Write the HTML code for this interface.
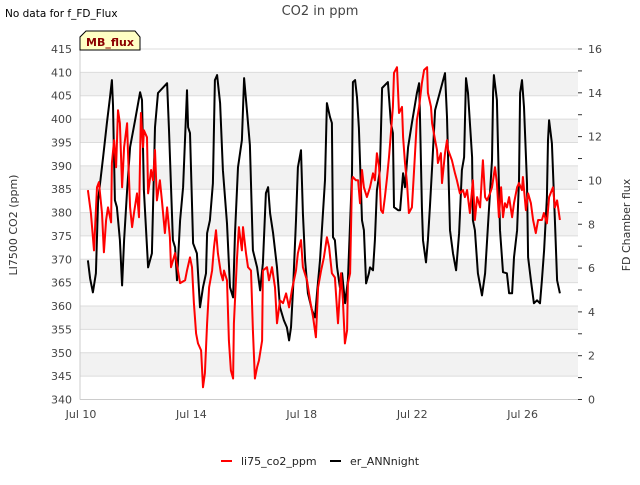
<!DOCTYPE html>
<html><head><meta charset="utf-8"><style>
body{margin:0;background:#fff;font-family:"Liberation Sans","DejaVu Sans",sans-serif}
svg text{font-family:"DejaVu Sans","Liberation Sans",sans-serif}
</style></head><body>
<svg id="c" width="640" height="480" xmlns="http://www.w3.org/2000/svg">
<text x="5" y="17" font-size="10.5" fill="#000">No data for f_FD_Flux</text>
<text x="320" y="15" font-size="13" fill="#444" text-anchor="middle">CO2 in ppm</text>
<g id="grid"></g>
<g id="axes"></g>
<g id="series"></g>
<g>
<path d="M80,50 L80,37 L86,31 L135,31 L140,37 L140,50 Z" fill="#ffffc4" stroke="#000" stroke-width="1"/>
<text x="110" y="46" font-size="11" font-weight="bold" fill="#8b0000" text-anchor="middle">MB_flux</text>
</g>
<text transform="translate(17,225) rotate(-90)" font-size="11" fill="#333" text-anchor="middle">LI7500 CO2 (ppm)</text>
<text transform="translate(630,225) rotate(-90)" font-size="11" fill="#333" text-anchor="middle">FD Chamber flux</text>
<g>
<g><line x1="221" y1="461" x2="232" y2="461" stroke="#f00" stroke-width="2"/><text x="241" y="465" font-size="11" fill="#222">li75_co2_ppm</text></g>
<g><line x1="330" y1="461" x2="341" y2="461" stroke="#000" stroke-width="2"/><text x="350" y="465" font-size="11" fill="#222">er_ANNnight</text></g>
</g>
</svg>
<script>
const xTickLabels=["Jul 10","Jul 14","Jul 18","Jul 22","Jul 26"];
const xTickDays=[0,4,8,12,16];
const leftTicks=[340,345,350,355,360,365,370,375,380,385,390,395,400,405,410,415];
const rightTicks=[0,2,4,6,8,10,12,14,16];
const redDays=[0.25,0.36,0.47,0.58,0.65,0.76,0.83,0.91,0.98,1.09,1.12,1.2,1.27,1.34,1.41,1.49,1.56,1.67,1.7,1.78,1.85,1.92,2.03,2.1,2.17,2.25,2.28,2.39,2.43,2.54,2.61,2.68,2.75,2.86,2.93,3.04,3.12,3.22,3.26,3.41,3.51,3.59,3.77,3.84,3.95,4.02,4.09,4.17,4.24,4.35,4.42,4.49,4.57,4.64,4.75,4.82,4.89,4.96,5.07,5.14,5.18,5.29,5.36,5.43,5.51,5.54,5.65,5.72,5.83,5.87,5.98,6.05,6.16,6.23,6.3,6.38,6.45,6.56,6.59,6.74,6.81,6.92,7.03,7.1,7.21,7.32,7.43,7.54,7.64,7.79,7.86,7.97,8.04,8.19,8.3,8.41,8.51,8.59,8.7,8.8,8.91,8.99,9.09,9.2,9.27,9.31,9.42,9.49,9.56,9.64,9.67,9.75,9.82,9.85,9.96,10.04,10.11,10.18,10.25,10.36,10.47,10.58,10.65,10.72,10.8,10.87,10.94,11.01,11.09,11.16,11.23,11.3,11.34,11.45,11.52,11.63,11.67,11.74,11.81,11.88,11.99,12.06,12.17,12.25,12.35,12.43,12.54,12.57,12.68,12.72,12.83,12.9,12.93,13.04,13.08,13.19,13.26,13.3,13.44,13.55,13.62,13.73,13.84,13.91,13.99,14.09,14.2,14.27,14.35,14.46,14.56,14.64,14.71,14.82,14.89,15,15.07,15.14,15.22,15.29,15.36,15.43,15.51,15.62,15.69,15.8,15.87,15.98,16.01,16.12,16.2,16.3,16.38,16.48,16.56,16.7,16.77,16.88,16.96,17.1,17.17,17.25,17.35];
const redValues=[384.8,379.9,371.9,385.4,386.5,379.9,371.5,378.4,381.1,377.9,390.6,395.5,389.7,401.9,399.1,385.4,394,399.1,393.4,381.1,376.9,379.9,384.1,379,401.3,394,397.6,396.1,384.1,389.1,386.9,393.4,382.6,386.9,382.6,375.6,381.1,374.7,368.3,371.3,367.6,364.9,365.5,367.6,370.4,368.3,360.6,354.1,352,350.5,342.6,345.6,356.3,364,367.6,372.6,376.2,371.3,367,365.5,367.6,365.5,352.6,346.2,344.5,356.3,369.8,376.9,371.9,376.9,371.3,368.3,367.6,354.8,344.5,346.9,348.4,352.6,367.6,368.3,365.5,368.3,364,356.3,361.2,360.6,362.7,359.7,363.4,367.6,371.3,374.1,368.3,365.5,361.2,357.6,353.3,364,367.6,370.4,374.7,372.6,367,366.1,359.7,356.3,367,361.2,352,354.8,364.9,367,386.9,387.6,386.9,386.9,382,389.1,385.4,383.3,385.4,388.4,386.9,392.7,389.7,380.5,379.9,383.3,387.6,391.9,397,402.6,409.9,411.1,401.3,402.6,396.1,390.6,386.3,379.9,381.1,388.4,399.8,402.6,407.7,410.5,411.1,405.6,402.6,399.1,395.5,393.4,390.6,392.7,386.3,392.7,395.5,393.4,391.2,388.4,386.9,384.1,384.8,383.3,384.8,379.9,386.9,378.4,383.3,381.1,391.2,383.3,382.6,384.1,385.4,389.7,386.3,379,385.4,379,382,381.1,383.3,379,382,385.4,386.3,384.8,387.6,380.5,384.1,382,378.4,375.6,378.4,378.4,379.9,377.7,383.3,385.4,381.1,382.6,378.4];
const blackDays=[0.25,0.33,0.43,0.54,0.62,0.8,0.94,1.05,1.12,1.16,1.23,1.3,1.41,1.49,1.56,1.67,1.78,1.96,2.14,2.21,2.28,2.43,2.57,2.68,2.79,3.12,3.19,3.33,3.41,3.48,3.59,3.7,3.84,3.88,3.95,4.06,4.2,4.31,4.42,4.53,4.57,4.67,4.78,4.85,4.93,5.04,5.14,5.29,5.4,5.51,5.58,5.69,5.83,5.91,6.01,6.12,6.23,6.38,6.49,6.59,6.7,6.78,6.85,6.96,7.1,7.21,7.35,7.46,7.54,7.61,7.68,7.79,7.86,7.97,8.04,8.12,8.22,8.37,8.48,8.55,8.66,8.84,8.91,9.02,9.09,9.13,9.2,9.28,9.38,9.46,9.57,9.67,9.82,9.85,9.93,10,10.07,10.18,10.25,10.33,10.43,10.47,10.58,10.65,10.72,10.83,10.91,11.12,11.23,11.3,11.34,11.49,11.56,11.67,11.74,11.85,11.99,12.17,12.25,12.28,12.35,12.39,12.5,12.57,12.64,12.72,12.83,13.19,13.26,13.37,13.48,13.59,13.7,13.8,13.88,13.95,14.02,14.17,14.2,14.27,14.38,14.53,14.64,14.75,14.89,14.93,14.96,15.07,15.18,15.29,15.43,15.51,15.62,15.69,15.8,15.87,15.91,15.98,16.05,16.16,16.2,16.3,16.41,16.52,16.63,16.7,16.78,16.88,16.92,16.96,17.06,17.17,17.25,17.35];
const blackValues=[6.35,5.53,4.89,5.76,9.1,11.06,12.62,13.8,14.58,13.44,9.1,8.78,7.27,5.21,7.27,9.55,11.52,12.75,14.03,13.67,9.55,6.03,6.67,12.43,13.99,14.44,12.3,7.27,6.95,5.44,8.18,9.69,14.12,12.43,12.16,7.13,6.67,4.21,5.12,5.76,7.59,8.18,9.87,14.58,14.81,13.53,10.47,8.04,5.12,4.66,7.59,10.6,11.84,14.67,13.21,11.61,6.81,6.03,4.98,6.22,9.42,9.69,8.5,7.59,6.03,4.21,3.61,3.29,2.7,3.29,4.98,8.18,10.6,11.38,8.5,6.35,4.85,4.07,3.75,4.85,6.35,10.01,13.53,12.89,12.62,7.41,7.27,6.03,5.12,5.76,4.39,5.44,10.33,14.49,14.58,13.8,12.39,8.18,7.73,5.3,5.76,6.03,5.9,7.27,9.55,10.47,14.22,14.49,12.62,12.16,8.78,8.64,8.64,10.33,9.69,11.52,12.62,13.99,14.44,13.07,8.78,7.27,6.26,7.27,8.78,10.6,13.21,14.9,12.89,7.73,6.67,5.9,7.59,10.47,11.06,14.67,13.99,11.06,8.18,7.73,5.76,4.75,5.76,8.04,10.92,14.03,14.81,13.67,7.73,5.81,5.76,4.85,4.85,6.49,7.73,10.01,13.99,14.58,13.35,9.87,6.49,5.44,4.39,4.53,4.39,5.44,6.81,9.23,11.84,12.75,11.7,8.18,5.44,4.85];

const NS="http://www.w3.org/2000/svg";
const L=80,R=578,T=49,B=399.5;
const xS=d=>81+d*27.6;
const yL=v=>B-(v-340)*(B-T)/75;
const yR=v=>B-v*(B-T)/16;
function mk(tag,attrs,parent){const e=document.createElementNS(NS,tag);for(const k in attrs)e.setAttribute(k,attrs[k]);parent.appendChild(e);return e;}
const grid=document.getElementById('grid'),axes=document.getElementById('axes'),series=document.getElementById('series');
for(let v=345;v<410;v+=10){
  const r=mk('rect',{x:L,y:yL(v+5),width:R-L,height:yL(v)-yL(v+5),fill:'#f2f2f2'},grid);
  
  
}
leftTicks.forEach(v=>{
  const l=mk('line',{x1:L,x2:R,y1:yL(v),y2:yL(v),stroke:'#dcdcdc','stroke-width':1},grid);
  
  
  const t=mk('text',{x:72,y:yL(v)+4,'font-size':11,fill:'#444','text-anchor':'end'},axes);
  t.textContent=v;
  
  
});
mk('line',{x1:L,x2:L,y1:T,y2:B,stroke:'#ccc','stroke-width':1},axes);
mk('line',{x1:L,x2:R,y1:B,y2:B,stroke:'#ccc','stroke-width':1},axes);
for(let v=0;v<=16;v++){
  const tk=mk('line',{x1:R,x2:R+4,y1:yR(v),y2:yR(v),stroke:'#333','stroke-width':1},axes);
  
  
}
rightTicks.forEach(v=>{
  const t=mk('text',{x:588,y:yR(v)+4,'font-size':11,fill:'#444'},axes);
  t.textContent=v;
  
  
});
xTickLabels.forEach((s,i)=>{
  const t=mk('text',{x:xS(xTickDays[i]),y:418,'font-size':11,fill:'#444','text-anchor':'middle'},axes);
  t.textContent=s;
  
  
});
const bp=mk('polyline',{points:blackDays.map((d,i)=>xS(d).toFixed(1)+','+yR(blackValues[i]).toFixed(1)).join(' '),fill:'none',stroke:'#000','stroke-width':2,'stroke-linejoin':'round'},series);


const rp=mk('polyline',{points:redDays.map((d,i)=>xS(d).toFixed(1)+','+yL(redValues[i]).toFixed(1)).join(' '),fill:'none',stroke:'#f00','stroke-width':2,'stroke-linejoin':'round'},series);


</script>
</body></html>
